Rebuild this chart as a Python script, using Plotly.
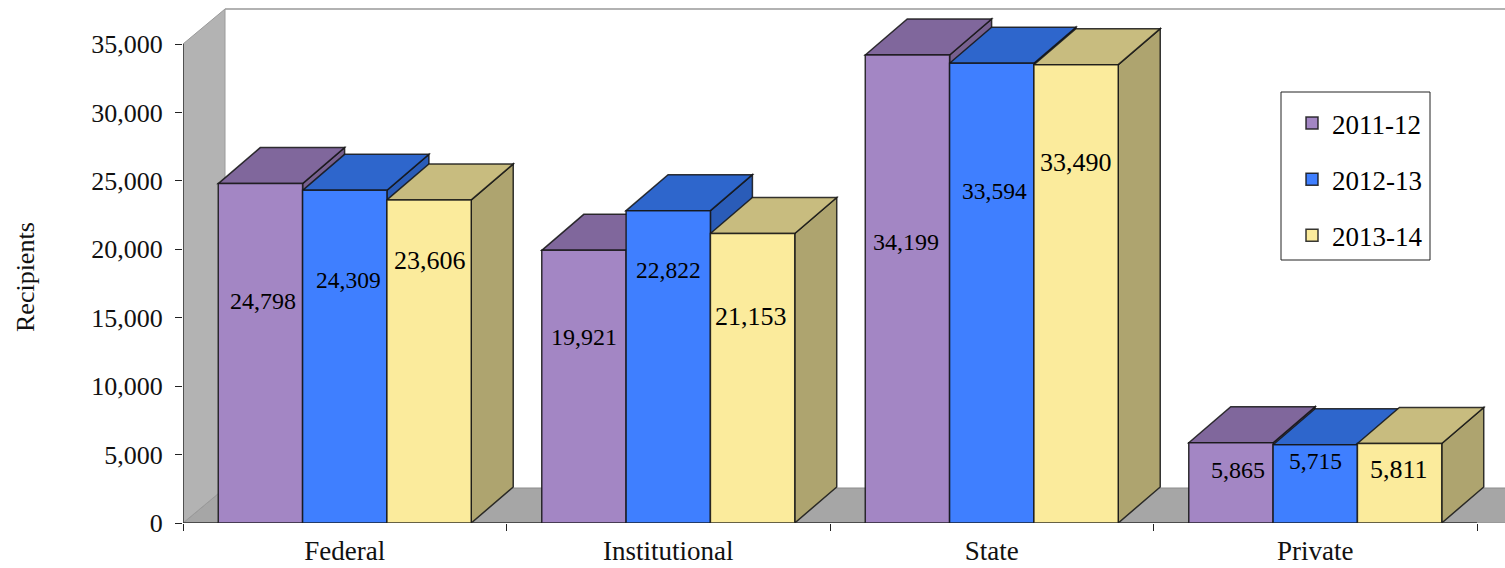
import plotly.graph_objects as go

categories = ["Federal", "Institutional", "State", "Private"]
series_names = ["2011-12", "2012-13", "2013-14"]
values_2011 = [24798, 19921, 34199, 5865]
values_2012 = [24309, 22822, 33594, 5715]
values_2013 = [23606, 21153, 33490, 5811]
label_height_2011 = [16230, 13600, 20540, 3880]
label_height_2012 = [17760, 18490, 24270, 4540]
label_height_2013 = [19150, 15060, 26310, 3880]
label_shift_2011 = [3, 0, -1, 7]
label_shift_2012 = [4, 0, 3, 0]
label_shift_2013 = [1, -2, 0, -1]

all_values = [values_2011, values_2012, values_2013]
all_label_heights = [label_height_2011, label_height_2012, label_height_2013]
all_label_shifts = [label_shift_2011, label_shift_2012, label_shift_2013]

front_colors = ["#A386C4", "#3F7FFF", "#FBEB9C"]
top_colors = ["#80679C", "#2E66CC", "#C8BC7F"]
side_colors = ["#77608F", "#2A5CB8", "#AEA46F"]
label_sizes = [24, 23.5, 26]

W, H = 1505, 568
LEFT, TOP, BOTTOM = 183, 4, 523
CAT_PX = 323.5
PX_PER_UNIT = 479 / 35000
DX = 42 / CAT_PX
DY = 36 / PX_PER_UNIT
DY_FLOOR = 35 / PX_PER_UNIT
DY_WALL = 35 / PX_PER_UNIT
XMIN, XMAX = -0.5, -0.5 + (W - LEFT) / CAT_PX
YMAX = (BOTTOM - TOP) / PX_PER_UNIT
BARGAP = 0.218
BAR_W = (1 - BARGAP) / 3
EDGE = "rgba(20,20,20,0.85)"
FONT = "Liberation Serif"


def px_x(p):
    return (p - LEFT) / (W - LEFT)


def px_y(p):
    return (BOTTOM - p) / (BOTTOM - TOP)


def poly(points, fill, line=EDGE, width=1.5):
    path = "M" + " L".join(f"{x:.5f},{y:.2f}" for x, y in points) + " Z"
    return dict(type="path", path=path, xref="x", yref="y", layer="below",
                fillcolor=fill, line=dict(color=line, width=width))


shapes = [
    poly([(XMIN, 0), (XMIN + DX, DY_FLOOR), (XMAX + DX, DY_FLOOR), (XMAX, 0)], "#A6A6A6", "#8c8c8c", 1),
    poly([(XMIN, 0), (XMIN + DX, DY_FLOOR), (XMIN + DX, 35000 + DY_WALL), (XMIN, 35000)], "#B3B3B3", "#9a9a9a", 1),
    dict(type="line", xref="x", yref="y", layer="below", x0=XMIN + DX, x1=XMAX,
         y0=35000 + DY_WALL, y1=35000 + DY_WALL, line=dict(color="#999999", width=1.5)),
    dict(type="line", xref="x", yref="y", layer="below", x0=XMIN, x1=XMIN, y0=0, y1=35000,
         line=dict(color="#333333", width=1.5)),
]

for c in range(len(categories)):
    for s, vals in enumerate(all_values):
        x0 = c - 3 * BAR_W / 2 + s * BAR_W
        x1 = x0 + BAR_W
        v = vals[c]
        shapes.append(poly([(x1, 0), (x1 + DX, DY), (x1 + DX, v + DY), (x1, v)], side_colors[s]))
        shapes.append(poly([(x0, v), (x0 + DX, v + DY), (x1 + DX, v + DY), (x1, v)], top_colors[s]))

shapes.append(dict(type="line", xref="x", yref="y", layer="below", x0=XMIN, x1=3.5, y0=0, y1=0,
                   line=dict(color="#333333", width=1.5)))
shapes.append(dict(type="rect", xref="paper", yref="paper", layer="above",
                   x0=px_x(1281), x1=px_x(1430), y0=px_y(260), y1=px_y(92),
                   line=dict(color="#222222", width=1), fillcolor="rgba(0,0,0,0)"))

fig = go.Figure()
for s, name in enumerate(series_names):
    fig.add_trace(go.Bar(
        x=categories, y=all_values[s], name=name, legendgroup=name,
        marker=dict(color=front_colors[s], line=dict(color=EDGE, width=1.5)),
        hoverinfo="x+y+name",
    ))

annotations = []
for c in range(len(categories)):
    for s in range(3):
        annotations.append(dict(
            x=c - BAR_W + s * BAR_W, y=all_label_heights[s][c], xref="x", yref="y",
            text=f"{all_values[s][c]:,}", showarrow=False, xshift=all_label_shifts[s][c],
            font=dict(family=FONT, size=label_sizes[s], color="#000000"),
        ))
annotations.append(dict(
    x=px_x(25), y=px_y(277), xref="paper", yref="paper", text="Recipients", textangle=-90,
    xanchor="center", yanchor="middle",
    showarrow=False, font=dict(family=FONT, size=26, color="#111111"),
))

fig.update_layout(
    width=W, height=H, autosize=False,
    margin=dict(l=LEFT, r=0, t=TOP, b=H - BOTTOM, pad=0, autoexpand=False),
    paper_bgcolor="white", plot_bgcolor="white",
    barmode="group", bargap=BARGAP, bargroupgap=0,
    shapes=shapes, annotations=annotations,
    font=dict(family=FONT, size=27, color="#111111"),
    showlegend=True,
    legend=dict(
        x=px_x(1292), xanchor="left", y=px_y(99), yanchor="top",
        bgcolor="rgba(0,0,0,0)", borderwidth=0,
        font=dict(family=FONT, size=27, color="#000000"),
        tracegroupgap=18, traceorder="grouped",
    ),
    xaxis=dict(
        type="category", categoryorder="array", categoryarray=categories,
        range=[XMIN, XMAX], tickson="boundaries", ticks="outside", ticklen=7,
        tickcolor="#222222", tickwidth=1, showgrid=False, showline=False, zeroline=False,
        tickfont=dict(family=FONT, size=27), ticklabelstandoff=9,
    ),
    yaxis=dict(
        range=[0, YMAX], tickvals=list(range(0, 35001, 5000)), tickformat=",",
        ticks="outside", ticklen=7, tickcolor="#222222", tickwidth=1,
        showgrid=False, showline=False, zeroline=False,
        tickfont=dict(family=FONT, size=26), ticklabelstandoff=7,
    ),
)

fig.write_html("out.html", config={"displayModeBar": False},
               post_script="document.body.style.margin='0';document.body.style.overflow='hidden';")
